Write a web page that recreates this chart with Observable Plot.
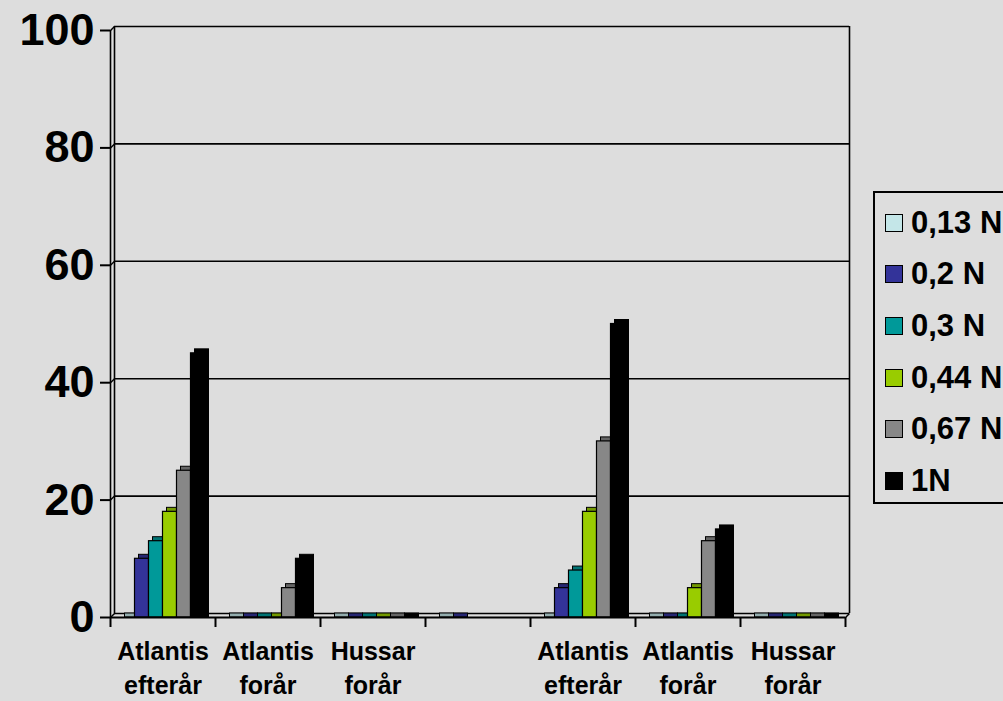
<!DOCTYPE html>
<html><head><meta charset="utf-8">
<script src="https://cdn.jsdelivr.net/npm/d3@7"></script>
<script src="https://cdn.jsdelivr.net/npm/@observablehq/plot@0.6"></script>
<style>
body{margin:0;background:#dddddd;overflow:hidden;font-family:"Liberation Sans",Arial,sans-serif;}
#wrap{position:relative;width:1003px;height:701px;overflow:hidden;}
#legend{position:absolute;left:873px;top:191px;width:200px;height:313px;border:2px solid #000;box-sizing:border-box;padding-top:4px;}
.row{height:51.6px;display:flex;align-items:center;}
.sw{width:16px;height:16px;border:1.5px solid #000;margin-left:10px;margin-right:8px;}
.lab{font-weight:bold;font-size:31px;color:#000;white-space:nowrap;}
</style></head><body><div id="wrap"></div>
<script>
// Categories (x axis), empty 4th slot as in the original
const categories = ["Atlantis\nefterår", "Atlantis\nforår", "Hussar\nforår", "", "Atlantis\nefterår", "Atlantis\nforår", "Hussar\nforår"];
const series = ["0,13 N", "0,2 N", "0,3 N", "0,44 N", "0,67 N", "1N"];
const colors = ["#c4e6e8", "#333399", "#009999", "#99cc00", "#878787", "#000000"];
// values per series, one per category (null = no bar)
const s013 = [0, 0, 0, 0, 0, 0, 0];
const s02  = [10, 0, 0, 0, 5, 0, 0];
const s03  = [13, 0, 0, null, 8, 0, 0];
const s044 = [18, 0, 0, null, 18, 5, 0];
const s067 = [25, 5, 0, null, 30, 13, 0];
const s1   = [45, 10, 0, null, 50, 15, 0];
const yTicks = [0, 20, 40, 60, 80, 100];

const seriesValues = [s013, s02, s03, s044, s067, s1];
const bars = [];
categories.forEach((c, i) => {
  series.forEach((s, j) => {
    const v = seriesValues[j][i];
    if (v != null) bars.push({cat: i, j, series: s, v});
  });
});

const W = 1003, H = 701, mL = 110, mR = 158, mT = 30, mB = 84;
const depth = 4;
const ux = depth / ((W - mL - mR) / categories.length);
const uy = depth / ((H - mT - mB) / 100);
const slot = 7.5; // 6 bars + 0.75 padding each side
const bx1 = d => d.cat + (0.75 + d.j) / slot;
const bx2 = d => d.cat + (1.75 + d.j) / slot;
const col = d => colors[d.j];
const dark = d => d3.color(colors[d.j]).darker(0.8).formatHex();

const plot = Plot.plot({
  width: W, height: H,
  marginLeft: mL, marginRight: mR, marginTop: mT, marginBottom: mB,
  style: {background: "#dddddd", fontFamily: "Liberation Sans, Arial, sans-serif", color: "#000"},
  x: {domain: [0, categories.length], axis: null},
  y: {domain: [0, 100], axis: null},
  marks: [
    // back wall grid lines & edges
    Plot.ruleY(yTicks, {x1: 0, x2: categories.length, dx: depth, dy: -depth, stroke: "#000", strokeWidth: 1.6}),
    Plot.ruleX([0, categories.length], {y1: 0, y2: 100, dx: depth, dy: -depth, stroke: "#000", strokeWidth: 1.6}),
    // front axis line and connectors
    Plot.ruleX([0], {y1: 0, y2: 100, stroke: "#000", strokeWidth: 1.6}),
    Plot.link(yTicks, {x1: 0, y1: d => d, x2: ux, y2: d => d + uy, stroke: "#000", strokeWidth: 1.4}),
    Plot.link([categories.length], {x1: d => d, y1: 0, x2: d => d + ux, y2: uy, stroke: "#000", strokeWidth: 1.4}),
    // bar depth (top/side faces)
    Plot.rect(bars, {x1: bx1, x2: bx2, y1: 0, y2: "v", dx: depth, dy: -depth, insetBottom: -depth, fill: dark, stroke: "#000", strokeWidth: 1}),
    // bar fronts
    Plot.rect(bars, {x1: bx1, x2: bx2, y1: 0, y2: "v", fill: col, stroke: "#000", strokeWidth: 1.2}),
    // front baseline
    Plot.ruleY([0], {x1: 0, x2: categories.length, stroke: "#000", strokeWidth: 2}),
    // axes
    Plot.axisY(yTicks, {tickSize: 10, tickPadding: 6, fontSize: 45, fontWeight: "bold", label: null, strokeWidth: 2, fill: "#000"}),
    Plot.axisX(d3.range(categories.length + 1), {tickSize: 10, tickFormat: () => "", label: null, strokeWidth: 2}),
    // category labels
    Plot.text(categories, {x: (d, i) => i + 0.5, frameAnchor: "bottom", dy: 18, lineAnchor: "top", lineHeight: 1.36, fontSize: 25, fontWeight: "bold", fill: "#000"})
  ]
});

const wrap = document.getElementById("wrap");
wrap.appendChild(plot);

const legend = document.createElement("div");
legend.id = "legend";
series.forEach((s, j) => {
  const row = document.createElement("div");
  row.className = "row";
  const sw = document.createElement("div");
  sw.className = "sw";
  sw.style.background = colors[j];
  const lab = document.createElement("span");
  lab.className = "lab";
  lab.textContent = s;
  row.appendChild(sw);
  row.appendChild(lab);
  legend.appendChild(row);
});
wrap.appendChild(legend);
</script>
</body></html>
